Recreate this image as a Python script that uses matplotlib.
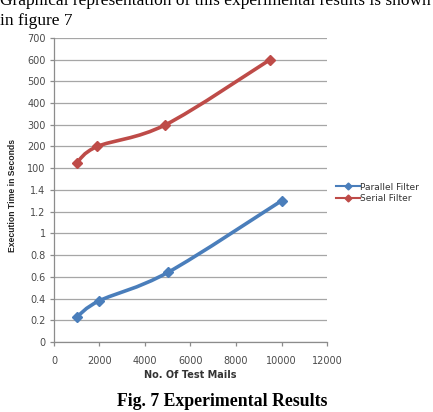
import numpy as np
import matplotlib
matplotlib.use("Agg")
import matplotlib.pyplot as plt
from matplotlib.path import Path
from matplotlib.patches import PathPatch

# ---- data ----
parallel_x = [1000, 2000, 5000, 10000]
parallel_y = [0.23, 0.38, 0.64, 1.30]
serial_x = [1000, 1900, 4900, 9500]
serial_y = [125, 200, 300, 600]
y_ticks = [0, 0.2, 0.4, 0.6, 0.8, 1.0, 1.2, 1.4, 100, 200, 300, 400, 500, 600, 700]
y_tick_labels = ["0", "0.2", "0.4", "0.6", "0.8", "1", "1.2", "1.4",
                 "100", "200", "300", "400", "500", "600", "700"]
x_ticks = [0, 2000, 4000, 6000, 8000, 10000, 12000]

BLUE = "#4a7ebb"
RED = "#be4b48"


# piecewise scale: 0..1.4 -> 0..7 ; 100..700 -> 8..14
def fwd(v):
    v = np.asarray(v, dtype=float)
    out = np.where(v <= 1.4, v / 0.2,
                   np.where(v < 100, 7 + (v - 1.4) / 98.6, 7 + v / 100.0))
    return out


def inv(p):
    p = np.asarray(p, dtype=float)
    return np.where(p <= 7, p * 0.2,
                    np.where(p < 8, 1.4 + (p - 7) * 98.6, (p - 7) * 100.0))


def smooth_path(xs, ys):
    pts = np.column_stack([xs, ys]).astype(float)
    verts = [pts[0]]
    codes = [Path.MOVETO]
    n = len(pts)
    for i in range(n - 1):
        p0 = pts[i - 1] if i > 0 else pts[i]
        p1 = pts[i]
        p2 = pts[i + 1]
        p3 = pts[i + 2] if i + 2 < n else pts[i + 1]
        c1 = p1 + (p2 - p0) / 6.0
        c2 = p2 - (p3 - p1) / 6.0
        verts += [c1, c2, p2]
        codes += [Path.CURVE4] * 3
    return Path(verts, codes)


fig = plt.figure(figsize=(4.33, 4.12), dpi=100)
ax = fig.add_axes([0.1247, 0.170, 0.6305, 0.738])
ax.set_yscale("function", functions=(fwd, inv))

for xs, ys, c, lab in [(parallel_x, parallel_y, BLUE, "Parallel Filter"),
                       (serial_x, serial_y, RED, "Serial Filter")]:
    ax.add_patch(PathPatch(smooth_path(xs, ys), fill=False, edgecolor=c,
                           lw=2.6, capstyle="round", joinstyle="round", zorder=3))
    ax.plot(xs, ys, linestyle="none", marker="D", markersize=5.5, color=c, zorder=4)
    ax.plot([], [], color=c, lw=1.5, marker="D", markersize=3.5, label=lab)

ax.set_xlim(0, 12000)
ax.set_ylim(0, 700)
ax.set_xticks(x_ticks)
ax.set_yticks(y_ticks)
ax.set_yticklabels(y_tick_labels)
ax.yaxis.set_minor_locator(matplotlib.ticker.NullLocator())
ax.grid(axis="y", color="#a6a6a6", lw=0.9)
ax.set_axisbelow(True)
for s in ["top", "right"]:
    ax.spines[s].set_visible(False)
for s in ["left", "bottom"]:
    ax.spines[s].set_color("#8c8c8c")
    ax.spines[s].set_linewidth(0.9)
ax.tick_params(axis="both", colors="#8c8c8c", labelcolor="#4a4a4a",
               labelsize=7, length=3, width=0.9)
ax.tick_params(axis="x", pad=7)
ax.tick_params(axis="y", pad=3)

ax.set_xlabel("No. Of Test Mails", fontsize=7, fontweight="bold", color="#333333",
              labelpad=3)
fig.text(0.028, 0.525, "Execution Time in Seconds", rotation=90, fontsize=6.2,
         fontweight="bold", color="#222222", ha="center", va="center",
         family="Liberation Sans")

leg = ax.legend(loc="center left", bbox_to_anchor=(1.02, 0.49), frameon=False,
                fontsize=6.5, handlelength=2.6, handletextpad=0.1, labelspacing=0.3,
                borderaxespad=0)
for t in leg.get_texts():
    t.set_color("#333333")

fig.text(0.0, 0.997, "Graphical representation of this experimental results is shown",
         family="Liberation Serif", fontsize=12.5, ha="left", va="center")
fig.text(0.0, 0.950, "in figure 7", family="Liberation Serif", fontsize=12.5,
         ha="left", va="center")
fig.text(0.512, 0.025, "Fig. 7 Experimental Results", family="Liberation Serif",
         fontsize=12.8, fontweight="bold", ha="center", va="center")

fig.savefig("out.png", dpi=100)
